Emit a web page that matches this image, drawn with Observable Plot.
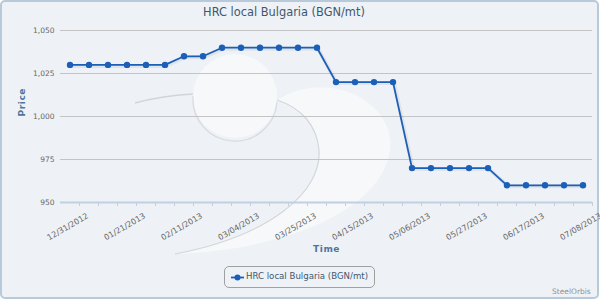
<!DOCTYPE html>
<html>
<head>
<meta charset="utf-8">
<script src="https://cdn.jsdelivr.net/npm/d3@7"></script>
<script src="https://cdn.jsdelivr.net/npm/@observablehq/plot@0.6"></script>
<style>
  html, body { margin: 0; padding: 0; background: #ffffff; }
  #wrap { position: relative; width: 600px; height: 300px; overflow: hidden; font-family: "DejaVu Sans", sans-serif; }
  #bg { position: absolute; left: 0px; top: 0px; width: 595px; height: 295px; border: 2px solid #b8c9da; border-radius: 5px; background: #eef2f6; }
  #wm, #chart { position: absolute; left: 0; top: 0; }
  #title { position: absolute; left: 0; width: 568px; top: 5px; text-align: center; font-size: 11.4px; color: #3e576f; white-space: nowrap; }
  #legend { position: absolute; left: 224px; top: 266px; width: 149px; height: 20px; border: 1px solid #a0a0a0; border-radius: 5px; box-sizing: content-box; }
  #legend svg { position: absolute; left: 5px; top: 5px; }
  #legend span { position: absolute; left: 21px; top: 4px; font-size: 8.6px; color: #3e576f; white-space: nowrap; }
  #credits { position: absolute; left: 552px; top: 287px; font-size: 7.5px; color: #909090; white-space: nowrap; }
</style>
</head>
<body>
<div id="wrap">
  <div id="bg"></div>
  <svg id="wm" width="600" height="300">
    <path d="M277 100 C330 66 405 105 388 160 C372 212 285 250 175 254 C270 236 322 192 319 150 C317 126 302 108 277 100 Z" fill="#ffffff" fill-opacity="0.45"/>
    <path d="M175 254 C270 236 322 192 319 150 C317 126 302 108 277 100" fill="none" stroke="#000" stroke-opacity="0.12" stroke-width="1.2"/>
    <circle cx="235" cy="96" r="42" fill="#ffffff" fill-opacity="0.45"/>
    <path d="M193 96 A42 42 0 0 0 277 102" fill="none" stroke="#000" stroke-opacity="0.1" stroke-width="1.2"/>
    <path d="M135 103 Q160 96 193 94" fill="none" stroke="#000" stroke-opacity="0.12" stroke-width="1.4"/>
  </svg>
  <div id="chart"></div>
  <div id="title">HRC local Bulgaria (BGN/mt)</div>
  <div id="legend">
    <svg width="16" height="12"><line x1="1" y1="5.5" x2="14" y2="5.5" stroke="#1a5fb8" stroke-width="1.8"/><circle cx="7.5" cy="5.5" r="3" fill="#1a5fb8"/></svg>
    <span>HRC local Bulgaria (BGN/mt)</span>
  </div>
  <div id="credits">SteelOrbis</div>
</div>
<script>
const dates = ["2012-12-31","2013-01-07","2013-01-14","2013-01-21","2013-01-28","2013-02-04","2013-02-11",
  "2013-02-18","2013-02-25","2013-03-04","2013-03-11","2013-03-18","2013-03-25","2013-04-01","2013-04-08",
  "2013-04-15","2013-04-22","2013-04-29","2013-05-06","2013-05-13","2013-05-20","2013-05-27","2013-06-03",
  "2013-06-10","2013-06-17","2013-06-24","2013-07-01","2013-07-08"];
const prices = [1030,1030,1030,1030,1030,1030,1035,1035,1040,1040,1040,1040,1040,1040,
  1020,1020,1020,1020,970,970,970,970,970,960,960,960,960,960];
const yTicks = [950, 975, 1000, 1025, 1050];
const xLabels = ["2012-12-31","2013-01-21","2013-02-11","2013-03-04","2013-03-25","2013-04-15",
  "2013-05-06","2013-05-27","2013-06-17","2013-07-08"];
const seriesName = "HRC local Bulgaria (BGN/mt)";

const parse = d3.utcParse("%Y-%m-%d");
const fmt = d3.utcFormat("%m/%d/%Y");
const data = dates.map((d, i) => ({date: parse(d), price: prices[i]}));
const labelDates = xLabels.map(parse);
const half = d => d3.utcHour.offset(d, 84);
const xDomain = [d3.utcHour.offset(data[0].date, -84), half(data[data.length - 1].date)];
const boundaries = data.map(d => half(d.date));
const color = "#1a5fb8";

const chart = Plot.plot({
  width: 600,
  height: 300,
  marginLeft: 60,
  marginRight: 8,
  marginTop: 30,
  marginBottom: 98,
  style: {background: "transparent", fontFamily: "DejaVu Sans, sans-serif", overflow: "visible"},
  x: {type: "utc", domain: xDomain},
  y: {domain: [950, 1050]},
  marks: [
    Plot.gridY(yTicks.filter(d => d > 950), {stroke: "#c4c4c4", strokeOpacity: 1, strokeWidth: 1}),
    Plot.axisY({ticks: yTicks, tickSize: 0, tickPadding: 6, tickFormat: d3.format(","), fontSize: 7.5, fill: "#666", label: null}),
    Plot.ruleY([950], {stroke: "#c0d0e0", strokeWidth: 2}),
    Plot.axisX({ticks: boundaries, tickSize: 4, tickFormat: () => "", stroke: "#c0d0e0", label: null}),
    Plot.text(labelDates, {x: d => d, text: d => fmt(d), frameAnchor: "bottom", dy: 15, dx: 19, rotate: -30,
      textAnchor: "end", lineAnchor: "bottom", fill: "#666", fontSize: 8}),
    Plot.text(["Time"], {text: d => d, frameAnchor: "bottom", dy: 49, lineAnchor: "bottom", fill: "#4d759e", fontSize: 9, fontWeight: "bold"}),
    Plot.text(["Price"], {text: d => d, frameAnchor: "left", dx: -36, rotate: -90, lineAnchor: "bottom", fill: "#4d759e", fontSize: 9, fontWeight: "bold"}),
    Plot.line(data, {x: "date", y: "price", stroke: "#000", strokeOpacity: 0.06, strokeWidth: 4, dx: 1, dy: 1}),
    Plot.line(data, {x: "date", y: "price", stroke: color, strokeWidth: 1.8}),
    Plot.dot(data, {x: "date", y: "price", r: 3.2, fill: color, stroke: "none"})
  ]
});
d3.select(chart).selectAll("text").filter(function() { return this.textContent === "Time" || this.textContent === "Price"; })
  .attr("letter-spacing", "0.6px");
document.getElementById("chart").appendChild(chart);
</script>
</body>
</html>
